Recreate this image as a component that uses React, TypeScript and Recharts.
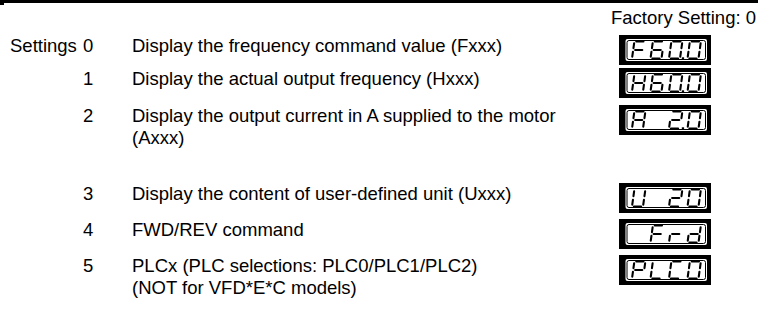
import { ReferenceArea, ReferenceLine, Scatter, ScatterChart, XAxis, YAxis } from "recharts";

// start-up display selection
const settingCodes = [0, 1, 2, 3, 4, 5];
const settingTexts = [
  ["Display the frequency command value (Fxxx)"],
  ["Display the actual output frequency (Hxxx)"],
  ["Display the output current in A supplied to the motor", "(Axxx)"],
  ["Display the content of user-defined unit (Uxxx)"],
  ["FWD/REV command"],
  ["PLCx (PLC selections: PLC0/PLC1/PLC2)", "(NOT for VFD*E*C models)"],
];
const panelReadouts = ["F60.0", "H60.0", "A 2.0", "U 20", " Frd", "PLC0"];
const factoryDefault = 0;

const W = 758;
const H = 322;
const FONT = "'Liberation Sans', Arial, Helvetica, sans-serif";
const FS = 18.5;

// layout: centre of the first text line of each row, space after each row
const FIRST_ROW = 45;
const ROW_GAPS = [33, 37, 56, 36, 36];
const WRAP_STEP = 22;

function rowCentres(lines: string[][]) {
  const out: number[] = [];
  let y = FIRST_ROW;
  lines.forEach((l, i) => {
    out.push(y);
    y += (l.length - 1) * WRAP_STEP + (ROW_GAPS[i] ?? 0);
  });
  return out;
}

const centres = rowCentres(settingTexts);
const rows = settingCodes.map((code, i) => ({
  x: 0,
  y: centres[i],
  code,
  lines: settingTexts[i],
  readout: panelReadouts[i],
}));
const header = [{ x: W, y: 17, text: `Factory Setting: ${factoryDefault}` }];

// seven segment glyphs: a b c d e f g
const SEGS: Record<string, string> = {
  "0": "abcdef",
  "2": "abdeg",
  "6": "acdefg",
  F: "aefg",
  H: "bcefg",
  A: "abcefg",
  U: "bcdef",
  r: "eg",
  d: "bcdeg",
  P: "abefg",
  L: "def",
  C: "adef",
  " ": "",
};

function Glyph({ ch, ox, oy, dp }: { ch: string; ox: number; oy: number; dp: boolean }) {
  const w = 11;
  const h = 17;
  const g = 1.9;
  const m = h / 2;
  const sl = (x: number, y: number) => [ox + x + (h - y) * 0.14, oy + y];
  const lines: Record<string, number[][]> = {
    a: [[g, 0], [w - g, 0]],
    b: [[w, g], [w, m - g]],
    c: [[w, m + g], [w, h - g]],
    d: [[g, h], [w - g, h]],
    e: [[0, m + g], [0, h - g]],
    f: [[0, g], [0, m - g]],
    g: [[g, m], [w - g, m]],
  };
  const on = SEGS[ch] ?? "";
  return (
    <g>
      {on.split("").map((s) => {
        const [p, q] = lines[s];
        const [x1, y1] = sl(p[0], p[1]);
        const [x2, y2] = sl(q[0], q[1]);
        return (
          <line key={s} x1={x1} y1={y1} x2={x2} y2={y2} stroke="#000" strokeWidth={2.1} strokeLinecap="round" />
        );
      })}
      {dp && <rect x={ox + w + 1.8} y={oy + h - 1.2} width={2.3} height={2.3} fill="#000" />}
    </g>
  );
}

function Readout({ text, cy }: { text: string; cy: number }) {
  const bx = 619;
  const bw = 92;
  const bh = 30;
  const by = cy - bh / 2 + 5;
  // four cells, a "." attaches to the cell before it
  const cells: { ch: string; dp: boolean }[] = [];
  for (const c of text) {
    if (c === "." && cells.length) cells[cells.length - 1].dp = true;
    else cells.push({ ch: c, dp: false });
  }
  return (
    <g>
      <rect x={bx} y={by} width={bw} height={bh} fill="#000" />
      <rect x={bx + 6.5} y={by + 4} width={bw - 10.5} height={bh - 8} rx={2} fill="#fff" />
      <rect x={bx + 8} y={by + 5.5} width={bw - 13.5} height={bh - 11} rx={2} fill="none" stroke="#000" strokeWidth={1} />
      {cells.map((c, i) => (
        <Glyph key={i} ch={c.ch} dp={c.dp} ox={bx + 13} oy={by + 6.5} />
      )).map((el, i) => (
        <g key={i} transform={`translate(${i * 18.5} 0)`}>
          {el}
        </g>
      ))}
    </g>
  );
}

function SettingRow(props: any) {
  const { cy, payload } = props;
  const base = cy + 6.6;
  return (
    <g fontFamily={FONT} fontSize={FS} fill="#000">
      {payload.code === 0 && (
        <text x={10} y={base}>
          Settings
        </text>
      )}
      <text x={83} y={base}>
        {payload.code}
      </text>
      {payload.lines.map((l: string, i: number) => (
        <text key={i} x={132} y={base + i * WRAP_STEP}>
          {l}
        </text>
      ))}
      <Readout text={payload.readout} cy={cy} />
    </g>
  );
}

function HeaderText(props: any) {
  const { cx, cy, payload } = props;
  return (
    <text x={cx - 2} y={cy + 6.6} textAnchor="end" fontFamily={FONT} fontSize={FS} fill="#000">
      {payload.text}
    </text>
  );
}

export default function App() {
  return (
    <div style={{ position: "absolute", left: 0, top: 0, width: W, height: H, background: "#fff" }}>
      <ScatterChart width={W} height={H} margin={{ top: 0, right: 0, bottom: 0, left: 0 }}>
        <XAxis type="number" dataKey="x" domain={[0, W]} hide />
        <YAxis type="number" dataKey="y" domain={[0, H]} reversed hide />
        <ReferenceLine y={1.5} stroke="#000" strokeWidth={3} />
        <ReferenceArea x1={0} x2={4} y1={0} y2={5} fill="#000" fillOpacity={1} stroke="none" />
        <Scatter data={header} shape={(p: any) => <HeaderText {...p} />} isAnimationActive={false} />
        <Scatter data={rows} shape={(p: any) => <SettingRow {...p} />} isAnimationActive={false} />
      </ScatterChart>
    </div>
  );
}
